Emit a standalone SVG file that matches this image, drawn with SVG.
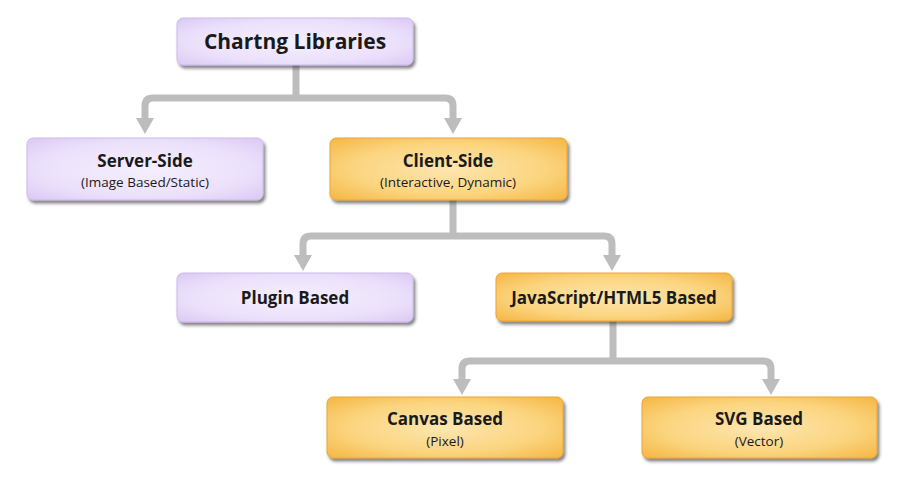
<svg xmlns="http://www.w3.org/2000/svg" width="903" height="485" viewBox="0 0 903 485">
<defs>
<radialGradient id="gp" cx="0.5" cy="0.5" r="0.75">
<stop offset="0" stop-color="#f5effd"/>
<stop offset="0.6" stop-color="#ebe0fb"/>
<stop offset="1" stop-color="#d7c4f3"/>
</radialGradient>
<radialGradient id="go" cx="0.5" cy="0.5" r="0.75">
<stop offset="0" stop-color="#fde6b0"/>
<stop offset="0.55" stop-color="#fbd47e"/>
<stop offset="1" stop-color="#f4b13a"/>
</radialGradient>
<filter id="sh" x="-10%" y="-20%" width="125%" height="150%">
<feDropShadow dx="2" dy="3" stdDeviation="1.6" flood-color="#333" flood-opacity="0.6"/>
</filter>
<marker id="arr" viewBox="0 0 16 18" refX="0" refY="9" markerUnits="userSpaceOnUse" markerWidth="16" markerHeight="18" orient="auto-start-reverse">
<path d="M0,0 L16,9 L0,18 z" fill="#bdbdbd"/>
</marker>
</defs>
<style>
.p{fill:url(#gp);stroke:#cdb9ec;stroke-width:1;filter:url(#sh)}
.o{fill:url(#go);stroke:#eaa632;stroke-width:1;filter:url(#sh)}
.t{font-family:"Open Sans","Liberation Sans",sans-serif;font-weight:700;fill:#1a1a1a;text-anchor:middle}
.s{font-family:"Open Sans","Liberation Sans",sans-serif;font-weight:400;fill:#1a1a1a;text-anchor:middle;font-size:13.5px}
.c{fill:none;stroke:#bdbdbd;stroke-width:7}
</style>
<rect width="903" height="485" fill="#ffffff"/>
<g id="connectors">
<path class="c" d="M296,65 V98"/>
<path class="c" d="M145,118 V106 Q145,98 153,98 H445 Q453,98 453,106 V118" marker-start="url(#arr)" marker-end="url(#arr)"/>
<path class="c" d="M453,200 V236"/>
<path class="c" d="M303,255 V244 Q303,236 311,236 H604 Q612,236 612,244 V255" marker-start="url(#arr)" marker-end="url(#arr)"/>
<path class="c" d="M613,321 V361"/>
<path class="c" d="M462,379 V369 Q462,361 470,361 H763 Q771,361 771,369 V379" marker-start="url(#arr)" marker-end="url(#arr)"/>
</g>
<g id="charting-libraries">
<rect class="p" x="177" y="18" width="236" height="47" rx="6"/>
<text class="t" x="295" y="49" font-size="21">Chartng Libraries</text>
</g>
<g id="server-side">
<rect class="p" x="27" y="138" width="236" height="62" rx="6"/>
<text class="t" x="145" y="167" font-size="17">Server-Side</text>
<text class="s" x="145" y="187">(Image Based/Static)</text>
</g>
<g id="client-side">
<rect class="o" x="330" y="138" width="237" height="62" rx="6"/>
<text class="t" x="448" y="167" font-size="17">Client-Side</text>
<text class="s" x="448" y="187">(Interactive, Dynamic)</text>
</g>
<g id="plugin-based">
<rect class="p" x="177" y="273" width="236" height="49" rx="6"/>
<text class="t" x="295" y="304" font-size="17">Plugin Based</text>
</g>
<g id="javascript-html5-based">
<rect class="o" x="496" y="273" width="236" height="48" rx="6"/>
<text class="t" x="614" y="304" font-size="17">JavaScript/HTML5 Based</text>
</g>
<g id="canvas-based">
<rect class="o" x="327" y="397" width="236" height="61" rx="6"/>
<text class="t" x="445" y="425" font-size="17">Canvas Based</text>
<text class="s" x="445" y="446">(Pixel)</text>
</g>
<g id="svg-based">
<rect class="o" x="642" y="397" width="235" height="61" rx="6"/>
<text class="t" x="759" y="425" font-size="17">SVG Based</text>
<text class="s" x="759" y="446">(Vector)</text>
</g>
</svg>
